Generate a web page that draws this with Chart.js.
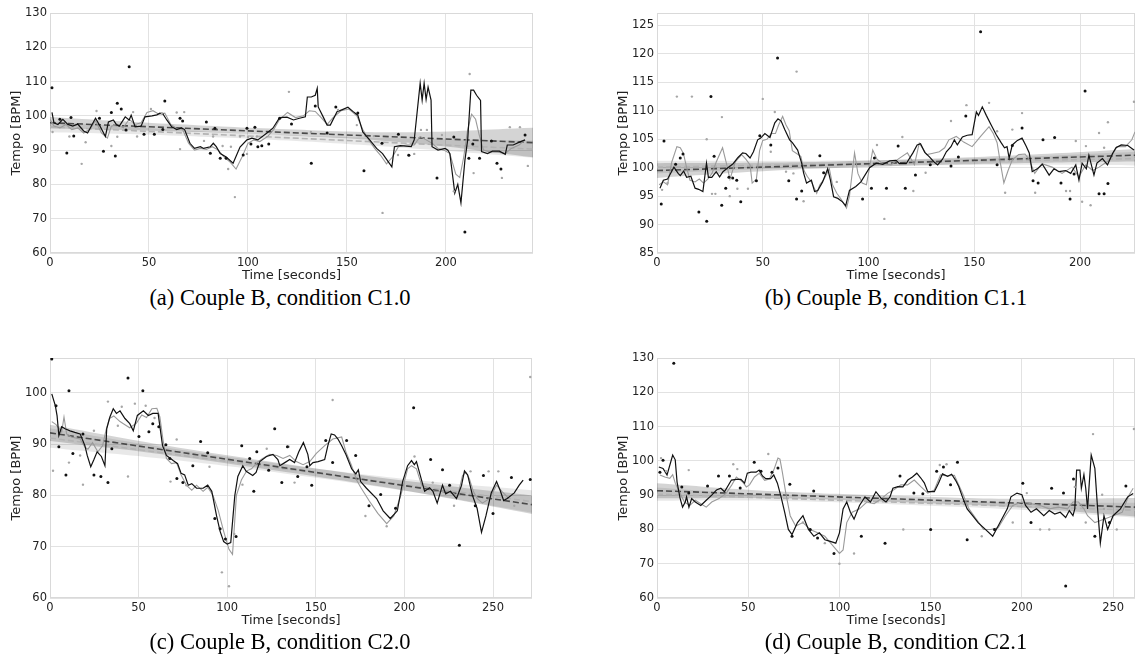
<!DOCTYPE html>
<html>
<head>
<meta charset="utf-8">
<script src="https://cdn.jsdelivr.net/npm/chart.js@4.4.0/dist/chart.umd.min.js"></script>
<style>
body { margin:0; background:#fff; width:1139px; height:665px; position:relative; overflow:hidden; }
canvas { position:absolute; }
.cap { position:absolute; width:400px; text-align:center; font-family:"Liberation Serif","Times New Roman",serif; font-size:22.5px; line-height:26px; color:#000; }
</style>
</head>
<body>
<canvas id="pa" width="545" height="285" style="left:0;top:0"></canvas>
<canvas id="pb" width="532" height="285" style="left:607px;top:0"></canvas>
<canvas id="pc" width="545" height="285" style="left:0;top:345px"></canvas>
<canvas id="pd" width="532" height="285" style="left:607px;top:345px"></canvas>
<div class="cap" style="left:80px;top:285px">(a) Couple B, condition C1.0</div>
<div class="cap" style="left:696px;top:285px">(b) Couple B, condition C1.1</div>
<div class="cap" style="left:80px;top:629px">(c) Couple B, condition C2.0</div>
<div class="cap" style="left:696px;top:629px">(d) Couple B, condition C2.1</div>
<script>
// ---- panel (a) C1.0 ----  [time, tempo]
var aBlackLine = [[1,101],[2,98],[4,97.5],[6.5,99],[9,97.5],[11.5,97],[14,97.6],[17,95.6],[19,95],[23,99.3],[25,97.3],[28,94],[29.5,98.2],[32,98.8],[33.5,97.5],[35,97],[38,99.7],[40,98.8],[41,100.2],[43,96.8],[46,97],[48,99.7],[51.5,100],[54,100.3],[55.5,100.8],[57,100.6],[59,98.8],[61.5,96.8],[64,96],[66.5,96.5],[68,96],[70.7,92],[73,90.5],[76,91],[77.6,90.5],[81,91],[82.5,92],[84,91],[86,89],[89,88],[92.5,86.2],[96,90.9],[99.5,93],[102,93.5],[105,93],[109.6,95],[112.6,96.4],[116,99.5],[119.7,99.6],[123,98.8],[126,99.3],[129,99.7],[130,105.5],[132,105.5],[134,106],[135,108],[135.5,102.6],[138,99.7],[140,97.3],[141.6,97.3],[145,101.2],[148,101.9],[150.5,102.5],[153,101.3],[155.5,100.2],[158,95.3],[161.6,92.9],[165,90.5],[168,89],[172.7,85.1],[174,91],[177,91.3],[182.5,91],[184,93],[187,109.5],[188,104.6],[189,109.5],[190,104.8],[191,108.4],[192.5,104.6],[193,91],[196,90],[199.6,90.5],[201,90],[202,89],[204.5,77.5],[206,80],[207.6,74.6],[209.6,87],[211,93],[212.6,107.5],[214,107.5],[215.5,106],[217.5,104.5],[218,89.6],[221,89],[223.5,89.7],[227,89.7],[230,88.8],[231,91.5],[234,91.5],[237.4,92.4],[240,93]];
var aGrayLine = [[0,99],[2,97],[5,96.5],[8,97.5],[11,96],[14,96.5],[17,95],[20,96],[23,98.5],[26,95],[29,93.5],[31,97],[34,97.5],[37,96.5],[40,99],[43,97.5],[46,98],[49,101],[52,101.5],[55,100.5],[58,100.8],[61,97.5],[64,96.3],[67,96],[70,92],[73,90],[76,90.5],[79,90.2],[82,91],[85,90],[88,88],[91,86.5],[94,84.5],[97,88],[100,92],[103,93],[106,92.5],[110,94],[113,96],[116,99],[120,101],[124,99.5],[128,100],[131,101.5],[134,101.3],[137,99.5],[140,97.5],[143,99.5],[147,101.5],[151,102],[155,100],[158,96],[161,93],[164,90.5],[167,88.5],[170,86],[173,88],[176,91],[180,91.5],[184,91.5],[187,94],[190,93],[193,92],[196,90.5],[199,90],[202,89],[205,83],[207,82],[209,88],[211,96],[213,100.5],[215,99],[217,94],[219,90],[222,89.5],[226,89.5],[230,89],[233,90.5],[237,91.5],[240,93]];
var aBlackDots = [[1,108.2],[5,99],[8.5,89.2],[10.6,99.5],[12,94.1],[25,99.3],[27,89.7],[31,101],[33,88.3],[34,103.7],[36,102],[38.4,95.9],[40,114.3],[47.5,94.6],[52.7,94.6],[57,96],[58,104.3],[65.7,99.3],[67,98.5],[79,98.2],[81,89.1],[83.3,96.4],[86,87.6],[89,87.6],[97.6,88.6],[99.5,96.4],[101.5,91.8],[103.5,96.7],[105,91],[107,91.3],[110.5,91.8],[116,99.3],[122,97.6],[132,86.2],[134,102.9],[140,95],[144.4,102.6],[155.5,100.8],[158.6,84],[167.7,92],[176,94.6],[181.3,88.5],[195.5,81.9],[204,93.8],[209.6,66.1],[211.6,87.6],[213.6,91.8],[217,87.6],[223,92.7],[225.8,86.2],[227.8,84.5],[240,94.4]];
var aGrayDots = [[1.3,95.3],[9.8,94],[16,86],[18,92.3],[23.5,101.4],[31,91.2],[34,93.9],[42,101.1],[44,94],[51,102],[56.5,100.8],[64,101],[65.7,90.3],[67.8,101.1],[77.8,92.7],[82.4,94],[87.2,91.2],[90,84.5],[91.4,91],[93.4,76.3],[96,94],[99.5,88.9],[100,93.8],[104.5,94],[120.7,107],[131.8,95.3],[145.5,101.7],[155,97.3],[163.6,94.1],[168,71.7],[175.8,88.6],[181,88.6],[184,88.9],[187.4,95.9],[190.4,95.9],[198,94.4],[204,78],[212,112.2],[214,83.3],[228.3,81.9],[232.3,96.7],[237.4,96.7],[241.4,85.4]];
var aRegDark = [[0,98],[244,92.2]];
var aRegLight = [[0,96.8],[244,90.3]];
var aBandX = [0,60,120,180,244];
var aDarkUp = [99.7,97.7,96.1,95.2,96.5];
var aDarkLo = [96.3,95.5,94.3,92.2,87.9];
var aLightUp = [98.4,96.1,94.4,93.4,92.8];
var aLightLo = [95.2,94.3,92.8,90.6,87.8];

// ---- panel (b) C1.1 ----
var bBlackLine = [[1.4,96.4],[3,97.8],[5,98],[6.6,99.1],[8,100.1],[10,99],[11,98.6],[12.6,99.4],[14,98.3],[16,98.5],[18,96.4],[19.7,96.2],[21.7,95.8],[23.4,100.8],[24.3,98.3],[25.9,98.3],[28,99.3],[29.6,98.4],[31.2,99.3],[33.5,100],[36,100.7],[38.3,101.8],[40.5,102.6],[42,102.5],[44,101.7],[45.6,102.8],[47.6,104.9],[49,105.2],[51,106],[53.4,105.3],[55.7,107.9],[57.2,108.6],[58.7,108.2],[60.4,106.7],[62.7,104.9],[64,104.4],[66.5,103.1],[68.4,100.8],[69.3,99.1],[70.7,97.3],[73,97.8],[74.5,95.8],[76,96],[78.3,97.5],[80.7,99.8],[82,97.8],[83.5,94.9],[85.5,94.6],[87.7,94],[89.2,93.3],[91,96],[94,96.7],[96.4,97.5],[100.5,100],[103.6,100.8],[106.8,100.6],[110,101.2],[113,101.3],[114.6,100.7],[117.8,100.7],[121,102.6],[123,104],[124.6,104.2],[126.6,102.7],[128.8,101.9],[131,101],[132.7,100.5],[135,101.5],[136.8,102.8],[139,103.7],[140.6,104.9],[142,104],[144.4,105.4],[146.7,105.7],[149,105.8],[151,109.8],[152,109.2],[153.8,110.7],[155.7,109.2],[158,107.5],[160.4,105.8],[162.7,104.4],[164.3,103.5],[165.5,103.7],[166.5,101.7],[168,104],[170.4,104.8],[172.6,105.2],[174.5,103.8],[176,102.6],[177.4,99.3],[179.8,99.8],[182.2,100.6],[185.4,98.7],[187.7,99.8],[190,99.3],[193.2,99.5],[195.6,99],[198,100.5],[199.5,97.8],[201,100.8],[203,99.8],[204.2,102.2],[206.6,98.7],[208,100.8],[210.6,101.6],[213,100.5],[215.4,102.5],[217,103.5],[219.5,104],[222.6,103.9],[225.5,103.1]];
var bGrayLine = [[1,97],[3,97.5],[5,97],[7,101],[9.4,103.7],[11,103.5],[12.5,102.5],[14,100],[15.6,97.8],[18,97.5],[20,98],[22,97.3],[24,98],[26,99],[28,101],[31,103.5],[33,100.5],[34.5,98],[37,101],[40,102.3],[42,101.5],[44,100.5],[45,97.3],[47,98],[48.5,103],[50,104.8],[52,105],[54,106],[56,106],[57.5,107.5],[59.4,109],[61,107.5],[62.5,106.5],[64,103],[66,102.5],[68,102],[69.5,99.5],[71,98.5],[73,97.5],[75.5,95.5],[77,97],[79,98],[81.5,99.8],[83,97],[85,95.5],[87,94.5],[89.6,92.9],[91,95],[93.4,102.6],[95,99],[97,97.3],[99,97],[102,103.1],[104,101.5],[106.8,100.7],[110.7,100.5],[114,101.5],[118.4,102.6],[121.7,100.5],[124,104.3],[127.5,102.3],[130,102.5],[133.5,102.8],[136,103.5],[138,104.9],[141.5,105.5],[145,104.5],[149,103.7],[153,105.5],[157,107.2],[159,106],[160.8,104.4],[162.5,100.5],[164,97.3],[166,99.5],[168,101.4],[171,102.3],[174,102.4],[176,101.4],[178.6,99],[182,100.7],[186.8,100.1],[191.5,99],[196.2,100.1],[199.5,98.4],[202.7,100.5],[206,99.5],[209,100.1],[213.8,101.3],[217.5,103.7],[221.5,103.7],[224.5,104.9],[226,106.3]];
var bBlackDots = [[2,93.6],[3.3,104.7],[8.8,100.6],[11,101.7],[12.3,102.4],[19.8,92.2],[23.5,90.6],[25.5,112.5],[27,102],[30.6,93.4],[32.5,96.4],[34,98.3],[35.8,98.2],[37.7,97.8],[39.6,94],[47,97.7],[48.6,105.6],[53.8,104],[57,119.3],[62.3,97.7],[66,94.5],[68.4,95.9],[77,102.1],[78.8,99.1],[97.2,94.5],[101.4,96.4],[102.8,101.7],[108.5,96.4],[114,103.8],[117.4,96.4],[122.2,98.7],[129.2,100.5],[139,100.3],[142.5,101.9],[146,109.1],[153,123.9],[160.8,100.5],[168,103.9],[172.6,107],[177.8,97.7],[180.2,97.3],[182.5,104.9],[188,105.3],[191,97.3],[195.3,94.5],[197.2,98.9],[202.4,113.5],[209,95.4],[211.4,95.4],[213.2,97.2]];
var bGrayDots = [[2.4,96.1],[5,97.3],[9.4,112.5],[16.5,112.5],[23.5,105],[26,95.4],[27.6,95.4],[30.7,108.9],[34.4,95],[38,96.3],[43,96.3],[50,112.1],[53.8,102.8],[55.7,109.8],[61,99.3],[64.5,99],[66,116.9],[69.3,94.1],[85,97.5],[104,104],[107.5,91],[116,105.4],[121.2,95.9],[127,99.1],[139,108.2],[146.3,111],[157,111.4],[160.8,106.4],[164.6,95.6],[168,106.7],[172.6,109.6],[178.8,95.6],[193.4,95.9],[195.3,95.9],[198,104.7],[201,94],[202.8,103.8],[205,93.4],[209,106.1],[211.4,103.5],[213.2,108],[225.5,111.6]];
var bRegDark = [[0,99.5],[226,102.2]];
var bRegLight = [[0,100.1],[226,101.6]];
var bBandX = [0,56,113,170,226];
var bDarkUp = [100.8,100.9,101.4,102.2,103.3];
var bDarkLo = [98.2,99.5,100.3,100.8,101.1];
var bLightUp = [101.2,101.2,101.4,101.9,102.8];
var bLightLo = [99.0,99.8,100.3,100.5,100.4];

// ---- panel (c) C2.0 ----
var cBlackLine = [[1,99.8],[3,97.5],[4,95.5],[5,91.7],[6.6,93.4],[8.5,93],[11.3,92.6],[14,92.3],[17,92],[19.7,89.7],[21,87.8],[23,85.6],[24.8,87],[26.6,88.5],[29,87.6],[31,85.8],[32,93],[33.8,95.3],[35.7,96.9],[37.5,96],[39.5,96.5],[42.3,95],[45,94],[47,92.6],[49.3,95.6],[52.7,96.5],[55.5,95.6],[58,96],[61,96],[63.5,89.7],[65.7,87.8],[69.5,86.8],[72,86.2],[74,84.3],[76,84],[78,82],[80,82.3],[82.7,81.4],[86.4,81.4],[89,82],[91.3,80.8],[94,76],[96,73],[98,71],[100,70.5],[102,70.8],[104.3,80],[106,83.7],[108.8,85.8],[110.7,84.7],[114.4,83.9],[116.3,84.5],[118.4,86.6],[122.2,87.6],[125.8,88],[128.6,87],[129.7,85.8],[132.5,86.4],[135.3,87],[138,86.4],[140.4,88.5],[143,90.3],[145.5,88],[146.6,85.8],[148.4,86.4],[151.3,86.6],[155,87],[156.8,89.7],[158.7,92],[160.6,91.8],[162.5,91],[164.6,89.7],[167,88],[170.2,85.2],[172.6,84.2],[174,85],[175.3,82.7],[178.6,81.4],[184.3,79.4],[188,77],[192,75.5],[196,77],[199,82.7],[201.8,85.8],[204,86.8],[205.6,86],[206.8,86.6],[208.7,84.2],[211.4,80.8],[214.2,81.5],[216.1,80.8],[218.5,78.5],[221.5,82],[223.3,80.3],[226,80.8],[229.4,79.4],[232.2,81.9],[233.9,84.8],[235.7,84],[238.4,80],[241,77.5],[243.5,72.8],[246,76],[249,80.5],[252,82.7],[254,81],[256,79],[258,79.4],[262,80.5],[264.8,82],[267,83]];
var cGrayLine = [[1,94.4],[3.4,93.8],[6.6,92.4],[7.9,95.3],[9.4,92],[12,91.4],[17,91],[19.7,89.4],[21.4,89],[24,90.3],[27,88.5],[29.7,89.7],[31.5,92.6],[33.5,95],[36,95.5],[39.5,94.4],[42.3,93.8],[45,93.2],[48.8,94.1],[51.8,95.7],[54.5,95.2],[57.5,96.9],[60.3,97],[62,95.3],[63.7,91],[65.7,87.2],[68.6,86.2],[71.4,86.4],[74,84],[77,82],[80,81],[82.7,82],[86.4,80.8],[89,81.6],[92,80],[95,77],[98,73],[101,69.5],[103,68.5],[105.2,80],[108,83],[111,84.8],[113.7,85.2],[117.4,86.6],[120,87.2],[124,88],[128,87.8],[131.5,87.2],[135.3,87.8],[139,86.6],[142.8,86],[146.6,86.6],[150.3,88.2],[155,89.7],[159.6,91],[164.6,91.4],[167,88.5],[170,86],[173,83],[175.3,81.6],[180,79],[185,76.5],[190,74.5],[194,76],[198,80],[201.8,85.2],[204,85.8],[206.8,85.2],[209.7,82],[213.4,81.5],[217,80.8],[221.5,80.8],[226,80.8],[230,79.8],[232.8,83.9],[234.7,84.5],[236.6,83.3],[238.9,80.8],[241,79.4],[244,78.5],[248,79.4],[252,82],[255,80.8],[259,79.4]];
var cBlackDots = [[1,106.6],[3.4,97.5],[5,89.5],[9,84],[10.7,100.4],[12.9,88.2],[18.6,92],[24.8,84],[28.7,83.7],[32.7,82.5],[34.9,89.1],[44,102.9],[50.2,91.5],[52.4,100.4],[55.8,92.4],[58,94],[61.4,93.4],[65.4,89.9],[67.6,87.2],[71.6,83.3],[75,82.5],[80.6,85.8],[85,90.5],[89,88.3],[93,75.5],[96,73.5],[99,71.5],[105,72],[108.2,89.7],[112.7,87.2],[115,80.8],[116.7,88.5],[123.4,84.9],[126.8,93],[130.8,82.5],[134,89.5],[139.8,83.7],[145,85.6],[147.7,82],[155.6,90.7],[159.5,86.4],[167.4,90.7],[172.5,87.8],[180,78],[186.6,80.2],[195,77.5],[205.2,97.1],[214.8,87],[221.5,85],[225.5,82],[231,70.3],[240,78],[244.6,83.9],[250,76.5],[260.4,83.5],[271,83.1]];
var cGrayDots = [[1.7,84.8],[10.7,86.4],[17,87.8],[18.6,82.1],[24.8,92.6],[32.7,98.3],[38.3,93.6],[40.5,97.3],[44,83.7],[47.9,97.9],[54,97.5],[59,95.1],[68,82.7],[71.5,90.9],[77,82],[90,85.6],[97,65],[101,62.3],[104,72.5],[108.6,82.1],[122.3,89.1],[134.7,89.5],[138,82.5],[159.5,98.6],[178,76],[190,74],[205.7,87.6],[216,82.5],[228,78],[237.3,84.7],[247.5,84.7],[253,84.7],[262,78],[271,103.1]];
var cRegDark = [[0,92.2],[272,78.2]];
var cRegLight = [[0,91.2],[272,78.8]];
var cBandX = [0,68,136,204,272];
var cDarkUp = [93.8,89.6,86.0,82.7,80.0];
var cDarkLo = [90.6,87.8,84.4,80.7,76.4];
var cLightUp = [93.1,89.2,85.9,83.1,81.0];
var cLightLo = [89.3,87.0,84.1,80.7,76.6];

// ---- panel (d) C2.1 ----
var dBlackLine = [[1,98.2],[3.3,97.8],[5.5,95.9],[8.6,101.7],[10,100.3],[11,93.8],[12.6,89.2],[14,86.5],[15.5,88],[16.2,89.5],[17.5,86.5],[19,89],[21,88],[24,87],[27,88.5],[30,90],[32.6,91.5],[35,92],[37,91],[40.8,94.4],[43.5,94.6],[46,94.6],[48,93.5],[49.5,96.4],[51.5,96.7],[54.3,96.7],[56,97.3],[57.8,95.6],[59.6,94.8],[62.3,94.8],[64,95.9],[66,93.5],[68,89.5],[70,85],[72,80],[74,78.5],[77,82],[80,84],[83,80],[86,78],[89,79],[92,77],[95,76.5],[98,76],[100,79],[102,86],[104,88],[106,85],[108,83],[111,87],[114,89.5],[117,88],[120,91],[123,89],[125.5,88],[127.7,89.5],[129.3,92],[132,92.5],[134.8,92.4],[137.5,94.4],[140,95.3],[142.4,96.4],[144.6,95],[146.5,93.6],[148.4,91],[152,91],[154.3,93.5],[156.5,96.2],[159.3,95.5],[161.5,96.1],[163.6,94.4],[165.4,92.5],[167.4,89.5],[170,86],[173,84],[176,82],[180,80],[184,78],[188,82],[192,86],[194,89.5],[197.3,90.6],[200,90.1],[202,87],[205,85],[208,86],[212,84],[215,85.5],[218,84.5],[221,85],[224,83.5],[226,85.5],[228,84],[229,86],[230,97.3],[231.8,97.3],[232.6,92],[234,96],[235,92],[236,86],[236.8,92.4],[238,101.7],[240,97.8],[241.5,86],[243,76],[245,84],[247,80],[250,84],[254,86],[258,89.5],[261,90.5]];
var dGrayLine = [[1.6,95.9],[4.3,95.3],[7,94.9],[8.6,96],[10,93.5],[12.6,90.6],[15,88],[18,87],[21,88.5],[24,87.5],[27,86.5],[30,88],[34,89],[38,90.6],[41,93],[43.5,95.3],[47,93.8],[49,92.4],[50.7,93],[53.4,95.3],[56,96.4],[59,94.3],[61.6,94.7],[64,97.3],[66.3,100.8],[67.4,100.5],[68.7,96.7],[70.6,90.6],[73,84],[76,81],[80,82],[84,80],[88,79],[92,78],[96,75.5],[100,73],[102,74],[104,82],[107,85],[111,86],[115,88],[119,87.5],[123,89],[126.6,90.6],[130,91.6],[133.7,93],[137.3,93],[141,94.4],[144.6,92.5],[148.4,90.6],[152,91.5],[155.4,95.9],[159,95.6],[163,95.8],[165.4,93],[167.4,90.6],[171,86],[175,83],[179,80],[183,80],[187,80.5],[191,84],[195,87],[200,88],[205,87.5],[210,87],[215,86],[220,86.5],[225,86],[228,88],[231,88],[234,86],[236,84],[240,82],[245,83],[250,84],[255,85],[258.7,90],[261,92]];
var dBlackDots = [[1.6,96.7],[3.3,100.2],[9.2,128.5],[13.6,92.4],[17.4,90.6],[27.7,92.7],[33.7,95.6],[39.7,95.6],[45.6,92.1],[53.3,99.6],[57,97],[63,96.7],[66.3,97.9],[72.8,93.2],[74,78],[84,80],[85.9,91.2],[88,77.5],[97,73],[112,78],[125,76],[133.2,95.6],[140.8,90.6],[145.7,90.4],[150,80],[153.3,97],[157,98.2],[160.9,93],[164.7,99.6],[170,77],[185,80],[200.5,93.5],[205,82],[216.3,92],[222.8,90.6],[224,63.5],[228.3,94.7],[240,78],[248,82],[257,92.7]];
var dGrayDots = [[2.2,100.8],[5,97],[17.4,97.3],[41.8,99],[44,97.6],[61,102],[80,82],[92,76],[100,70],[108,73],[135,80],[155,98.8],[158.7,99],[178,78],[195,82],[202.7,90.6],[210,80],[215,80],[229,92.4],[235,82],[239,107.8],[244,90.1],[245,86],[252,80],[261.4,109.3]];
var dRegDark = [[0,91.3],[262,86.5]];
var dRegLight = [[0,90.3],[262,85.6]];
var dBandX = [0,65.5,131,196.5,262];
var dDarkUp = [93.5,91.1,89.8,88.9,89.2];
var dDarkLo = [89.1,89.1,88.0,86.5,83.8];
var dLightUp = [92.2,89.9,88.7,87.8,87.8];
var dLightLo = [88.4,88.3,87.3,85.8,83.4];

// axis ranges: [min, max, tick step]
var xRanges = { a: [0, 244, 50], b: [0, 226, 50], c: [0, 272, 50], d: [0, 262, 50] };
var yRanges = { a: [60, 130, 10], b: [85, 127.2, 5], c: [60, 106.8, 10], d: [60, 130, 10] };
var padRight = { a: 12, b: 1, c: 13, d: 1 };

Chart.defaults.font.family = "'DejaVu Sans', sans-serif";
Chart.defaults.color = '#222222';

function pts(arr) { return arr.map(function (p) { return { x: p[0], y: p[1] }; }); }
function zip(xs, ys) { return xs.map(function (x, i) { return { x: x, y: ys[i] }; }); }

// only keep ticks on whole steps (matplotlib style, no tick at the odd max)
function stepTicks(r) {
  return function (sc) {
    var out = [];
    for (var v = r[0]; v <= r[1] + 1e-9; v += r[2]) out.push({ value: v });
    sc.ticks = out;
  };
}

var frame = {
  id: 'frame',
  beforeDatasetsDraw: function (c) {
    var a = c.chartArea, ctx = c.ctx;
    ctx.save();
    ctx.strokeStyle = '#d9d9d9';
    ctx.lineWidth = 1;
    ctx.strokeRect(a.left + 0.5, a.top + 0.5, a.right - a.left - 1, a.bottom - a.top - 1);
    ctx.restore();
  }
};

function line(data, color, width, dash, order) {
  return { data: data, showLine: true, borderColor: color, borderWidth: width, borderDash: dash || [],
           pointRadius: 0, fill: false, order: order };
}
function edge(data, order) {
  return { data: data, showLine: true, borderColor: 'rgba(0,0,0,0)', borderWidth: 0.01, pointRadius: 0,
           tension: 0.4, fill: false, order: order };
}
function band(data, color, order) {
  return { data: data, showLine: true, borderColor: 'rgba(0,0,0,0)', borderWidth: 0.01, pointRadius: 0,
           tension: 0.4, fill: '-1', backgroundColor: color, order: order };
}

function build(id, key, s) {
  var xr = xRanges[key], yr = yRanges[key];
  new Chart(document.getElementById(id), {
    type: 'scatter',
    data: {
      datasets: [
        { data: pts(s.blackDots), pointRadius: 1.5, pointBackgroundColor: '#111', pointBorderWidth: 0, order: 0 },
        { data: pts(s.grayDots), pointRadius: 1.2, pointBackgroundColor: '#a6a6a6', pointBorderWidth: 0, order: 1 },
        line(pts(s.blackLine), '#111111', 1.2, null, 2),
        line(pts(s.grayLine), '#9a9a9a', 1.1, null, 3),
        line(pts(s.regDark), '#4a4a4a', 1.6, [6, 3], 4),
        line(pts(s.regLight), '#b3b3b3', 1.6, [6, 3], 5),
        edge(zip(s.bandX, s.darkUp), 6),
        band(zip(s.bandX, s.darkLo), 'rgba(0,0,0,0.17)', 7),
        edge(zip(s.bandX, s.lightUp), 8),
        band(zip(s.bandX, s.lightLo), 'rgba(0,0,0,0.09)', 9)
      ]
    },
    options: {
      responsive: false,
      animation: false,
      events: [],
      layout: { padding: { top: 13, right: padRight[key], left: 0, bottom: 0 } },
      plugins: { legend: { display: false }, tooltip: { enabled: false } },
      scales: {
        x: {
          type: 'linear', min: xr[0], max: xr[1],
          afterBuildTicks: stepTicks(xr),
          afterFit: function (sc) { sc.height = 32; },
          grid: { color: '#e2e2e2', drawTicks: false },
          border: { display: false },
          ticks: { padding: 3, maxRotation: 0, autoSkip: false, font: { size: 11.5 } },
          title: { display: true, text: 'Time [seconds]', font: { size: 13 }, padding: { top: 0, bottom: 2 } }
        },
        y: {
          min: yr[0], max: yr[1],
          afterBuildTicks: stepTicks(yr),
          afterFit: function (sc) { sc.width = 50; },
          grid: { color: '#e2e2e2', drawTicks: false },
          border: { display: false },
          ticks: { padding: 3, autoSkip: false, font: { size: 11.5 } },
          title: { display: true, text: 'Tempo [BPM]', font: { size: 13 }, padding: { top: 9, bottom: 0 } }
        }
      }
    },
    plugins: [frame]
  });
}

build('pa', 'a', { blackLine: aBlackLine, grayLine: aGrayLine, blackDots: aBlackDots, grayDots: aGrayDots,
  regDark: aRegDark, regLight: aRegLight, bandX: aBandX, darkUp: aDarkUp, darkLo: aDarkLo, lightUp: aLightUp, lightLo: aLightLo });
build('pb', 'b', { blackLine: bBlackLine, grayLine: bGrayLine, blackDots: bBlackDots, grayDots: bGrayDots,
  regDark: bRegDark, regLight: bRegLight, bandX: bBandX, darkUp: bDarkUp, darkLo: bDarkLo, lightUp: bLightUp, lightLo: bLightLo });
build('pc', 'c', { blackLine: cBlackLine, grayLine: cGrayLine, blackDots: cBlackDots, grayDots: cGrayDots,
  regDark: cRegDark, regLight: cRegLight, bandX: cBandX, darkUp: cDarkUp, darkLo: cDarkLo, lightUp: cLightUp, lightLo: cLightLo });
build('pd', 'd', { blackLine: dBlackLine, grayLine: dGrayLine, blackDots: dBlackDots, grayDots: dGrayDots,
  regDark: dRegDark, regLight: dRegLight, bandX: dBandX, darkUp: dDarkUp, darkLo: dDarkLo, lightUp: dLightUp, lightLo: dLightLo });
</script>
</body>
</html>
